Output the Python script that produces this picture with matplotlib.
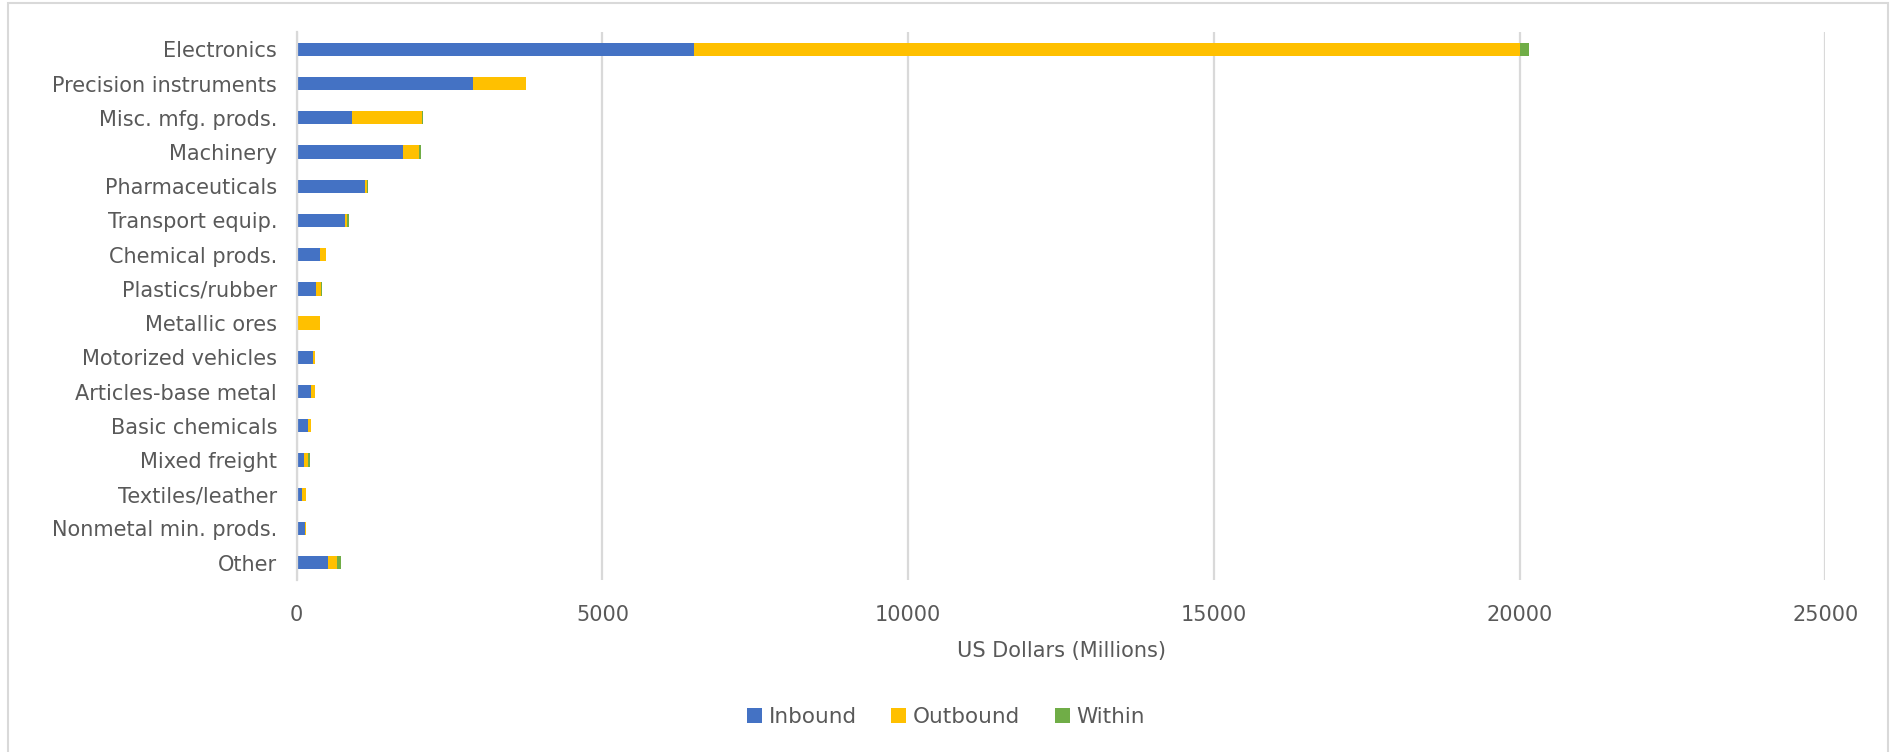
import matplotlib.pyplot as plt
import numpy as np
from matplotlib.patches import Rectangle

categories = ["Electronics", "Precision instruments", "Misc. mfg. prods.", "Machinery",
              "Pharmaceuticals", "Transport equip.", "Chemical prods.", "Plastics/rubber",
              "Metallic ores", "Motorized vehicles", "Articles-base metal", "Basic chemicals",
              "Mixed freight", "Textiles/leather", "Nonmetal min. prods.", "Other"]
inbound = [6500, 2880, 900, 1735, 1120, 785, 375, 320, 0, 265, 230, 180, 115, 85, 135, 505]
outbound = [13500, 870, 1150, 265, 35, 35, 110, 85, 385, 30, 65, 55, 65, 75, 20, 155]
within = [150, 0, 20, 35, 15, 35, 0, 15, 0, 0, 0, 0, 30, 0, 0, 60]

blue = "#4472c4"
gold = "#ffc000"
green = "#70ad47"
grey_text = "#595959"
grid_col = "#d9d9d9"

fig = plt.figure(figsize=(18.92, 7.52), dpi=100)
ax = fig.add_axes([0.1568, 0.229, 0.8080, 0.7282])

y = np.arange(len(categories))
inb = np.array(inbound)
outb = np.array(outbound)
wit = np.array(within)
h = 0.39
ax.barh(y, inb, height=h, color=blue, label="Inbound")
ax.barh(y, outb, left=inb, height=h, color=gold, label="Outbound")
ax.barh(y, wit, left=inb + outb, height=h, color=green, label="Within")

ax.set_ylim(len(categories) - 0.5, -0.5)
ax.set_xlim(0, 25000)
ax.set_xticks(np.arange(0, 25001, 5000))
ax.set_yticks(y)
ax.set_yticklabels(categories)

ax.grid(axis="x", color=grid_col, linewidth=1.6)
ax.set_axisbelow(True)
for s in ["top", "right", "bottom"]:
    ax.spines[s].set_visible(False)
ax.spines["left"].set_color(grid_col)
ax.spines["left"].set_linewidth(1.6)
ax.tick_params(length=0, labelsize=15, colors=grey_text)
ax.tick_params(axis="y", pad=14)
ax.tick_params(axis="x", pad=18)
ax.set_xlabel("US Dollars (Millions)", fontsize=15, color=grey_text, labelpad=12)

leg = fig.legend(loc="center", bbox_to_anchor=(0.5, 0.047), ncol=3, frameon=False,
                 fontsize=15.5, handlelength=0.7, handleheight=0.7, handletextpad=0.3,
                 columnspacing=1.6)
for t in leg.get_texts():
    t.set_color(grey_text)

# outer chart border
fig.patches.append(Rectangle((8 / 1892, -0.01), 1880 / 1892, 1 - 3 / 752 + 0.01,
                             transform=fig.transFigure, fill=False,
                             edgecolor=grid_col, linewidth=1.5))

fig.savefig("out.png", dpi=100, facecolor="white")
